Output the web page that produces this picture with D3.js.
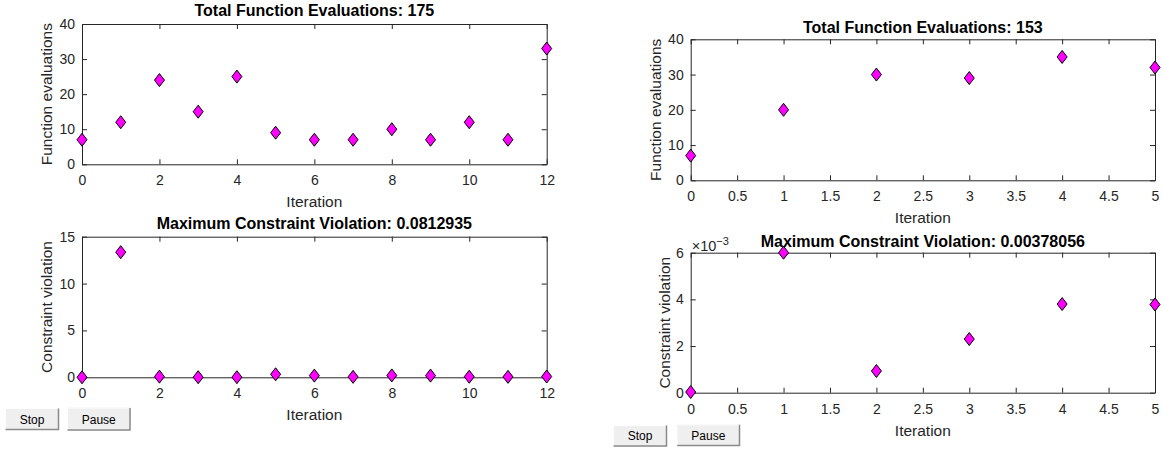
<!DOCTYPE html>
<html>
<head>
<meta charset="utf-8">
<script src="https://cdn.jsdelivr.net/npm/d3@7"></script>
<style>
  html, body { margin: 0; padding: 0; background: #ffffff; }
  svg { display: block; font-family: "Liberation Sans", Arial, Helvetica, sans-serif; }
</style>
</head>
<body>
<svg id="chart" width="1163" height="449"></svg>
<script>
// ---- data -------------------------------------------------------------
const iterA = [0, 1, 2, 3, 4, 5, 6, 7, 8, 9, 10, 11, 12];
const fevalsA = [7, 12, 24, 15, 25, 9, 7, 7, 10, 7, 12, 7, 33];
const violationA = [0, 13.35, 0.07, 0.01, 0.01, 0.32, 0.18, 0.05, 0.2, 0.18, 0.06, 0.05, 0.0812935];

const iterB = [0, 1, 2, 3, 4, 5];
const fevalsB = [7, 20, 30, 29, 35, 32];
const violationB = [0.00003, 0.006, 0.00093, 0.0023, 0.0038, 0.00378056];

const ticksXA = [0, 2, 4, 6, 8, 10, 12];
const ticksXB = [0, 0.5, 1, 1.5, 2, 2.5, 3, 3.5, 4, 4.5, 5];
const ticksFevals = [0, 10, 20, 30, 40];
const ticksViolA = [0, 5, 10, 15];
const ticksViolB = [0, 0.002, 0.004, 0.006];

const titleA1 = "Total Function Evaluations: " + d3.sum(fevalsA);
const titleA2 = "Maximum Constraint Violation: 0.0812935";
const titleB1 = "Total Function Evaluations: " + d3.sum(fevalsB);
const titleB2 = "Maximum Constraint Violation: 0.00378056";

// ---- layout -----------------------------------------------------------
const svg = d3.select("#chart");
const axisColor = "#262626";

const panels = [
  { x: [82, 546.7], y: [164.3, 24], xd: [0, 12], yd: [0, 40], xt: ticksXA, yt: ticksFevals,
    xs: iterA, ys: fevalsA, title: titleA1, titleY: 16, ylab: "Function evaluations", ylabOff: 30, fmt: d => d },
  { x: [82, 546.7], y: [377.3, 236.7], xd: [0, 12], yd: [0, 15], xt: ticksXA, yt: ticksViolA,
    xs: iterA, ys: violationA, title: titleA2, titleY: 229.3, ylab: "Constraint violation", ylabOff: 30, fmt: d => d },
  { x: [690.7, 1155], y: [180.3, 39.3], xd: [0, 5], yd: [0, 40], xt: ticksXB, yt: ticksFevals,
    xs: iterB, ys: fevalsB, title: titleB1, titleY: 32.7, ylab: "Function evaluations", ylabOff: 30, fmt: d => d },
  { x: [690.7, 1155], y: [392.7, 252.7], xd: [0, 5], yd: [0, 0.006], xt: ticksXB, yt: ticksViolB,
    xs: iterB, ys: violationB, title: titleB2, titleY: 246.5, ylab: "Constraint violation", ylabOff: 21,
    fmt: d => Math.round(d * 1000), exponent: true }
];

// diamond marker path (half-width, half-height)
const dw = 5, dh = 6.5;
const diamond = `M0,${-dh}L${dw},0L0,${dh}L${-dw},0Z`;

panels.forEach(p => {
  const x = d3.scaleLinear().domain(p.xd).range(p.x);
  const y = d3.scaleLinear().domain(p.yd).range(p.y);
  const g = svg.append("g");

  const styleAxis = sel => {
    sel.select(".domain").attr("stroke", axisColor).attr("stroke-width", 1);
    sel.selectAll(".tick line").attr("stroke", axisColor);
    sel.selectAll(".tick text").attr("fill", axisColor)
      .style("font-size", "14px").style("font-family", "Liberation Sans, Arial, sans-serif");
  };

  g.append("g").attr("transform", `translate(0,${p.y[0]})`)
    .call(d3.axisBottom(x).tickValues(p.xt).tickSize(-5).tickSizeOuter(0).tickPadding(11).tickFormat(d => d))
    .call(styleAxis);
  g.append("g").attr("transform", `translate(0,${p.y[1]})`)
    .call(d3.axisTop(x).tickValues(p.xt).tickSize(-5).tickSizeOuter(0).tickFormat(""))
    .call(styleAxis);
  g.append("g").attr("transform", `translate(${p.x[0]},0)`)
    .call(d3.axisLeft(y).tickValues(p.yt).tickSize(-5).tickSizeOuter(0).tickPadding(7).tickFormat(p.fmt))
    .call(styleAxis);
  g.append("g").attr("transform", `translate(${p.x[1]},0)`)
    .call(d3.axisRight(y).tickValues(p.yt).tickSize(-5).tickSizeOuter(0).tickFormat(""))
    .call(styleAxis);
  g.selectAll(".domain").attr("fill", "none");

  const cx = (p.x[0] + p.x[1]) / 2;

  // title
  g.append("text").attr("x", cx).attr("y", p.titleY)
    .attr("text-anchor", "middle").attr("fill", "#000")
    .style("font-size", "16px").style("font-weight", "bold")
    .text(p.title);

  // x label
  g.append("text").attr("x", cx).attr("y", p.y[0] + 43)
    .attr("text-anchor", "middle").attr("fill", axisColor)
    .style("font-size", "15.5px").text("Iteration");

  // y label
  const cy = (p.y[0] + p.y[1]) / 2;
  g.append("text")
    .attr("transform", `translate(${p.x[0] - p.ylabOff},${cy}) rotate(-90)`)
    .attr("text-anchor", "middle").attr("fill", axisColor)
    .style("font-size", "15.5px").text(p.ylab);

  // exponent multiplier
  if (p.exponent) {
    const t = g.append("text").attr("x", p.x[0] + 1).attr("y", p.y[1] - 2)
      .attr("fill", axisColor).style("font-size", "14.5px");
    t.append("tspan").text("\u00d710");
    t.append("tspan").attr("dy", -6).style("font-size", "11px").text("\u22123");
  }

  // markers
  g.append("g").selectAll("path")
    .data(p.xs.map((v, i) => [v, p.ys[i]]))
    .join("path")
    .attr("d", diamond)
    .attr("transform", d => `translate(${x(d[0])},${y(d[1])})`)
    .attr("fill", "#ff00ff").attr("stroke", "#000").attr("stroke-width", 1);
});

// ---- Stop / Pause buttons --------------------------------------------
const buttons = [
  { label: "Stop", x: 5, y: 408, w: 54, h: 22 },
  { label: "Pause", x: 67, y: 407.5, w: 63.5, h: 23 },
  { label: "Stop", x: 613, y: 425, w: 54, h: 21.5 },
  { label: "Pause", x: 676.7, y: 424.3, w: 63.3, h: 21.7 }
];
const bg = svg.append("g");
buttons.forEach(b => {
  const gb = bg.append("g").attr("transform", `translate(${b.x},${b.y})`);
  gb.append("rect").attr("width", b.w).attr("height", b.h).attr("fill", "#efefef");
  // bevel: light top/left, dark bottom/right
  gb.append("path").attr("d", `M0.5,${b.h - 0.5}V0.5H${b.w - 0.5}`)
    .attr("fill", "none").attr("stroke", "#fdfdfd");
  gb.append("path").attr("d", `M0.5,${b.h - 0.5}H${b.w - 0.5}V0.5`)
    .attr("fill", "none").attr("stroke", "#8a8a8a").attr("stroke-width", 1.5);
  gb.append("text").attr("x", b.w / 2).attr("y", b.h / 2 + 4.5)
    .attr("text-anchor", "middle").attr("fill", "#000")
    .style("font-size", "12px").text(b.label);
});
</script>
</body>
</html>
